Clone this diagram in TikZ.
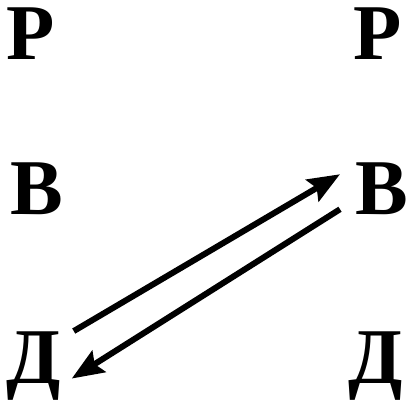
\documentclass[tikz,border=0pt]{standalone}
\usepackage{fontspec}
\setmainfont{Liberation Serif}
\usetikzlibrary{arrows.meta}
\tikzset{lt/.style={anchor=base west,inner sep=0pt,font=\bfseries\fontsize{79}{79}\selectfont},
         arr/.style={line width=6pt,-{Stealth[length=32pt,width=25pt,inset=5pt]}}}

\begin{document}
\begin{tikzpicture}[x=1pt,y=1pt]
	\useasboundingbox (0,0) rectangle (407,399);
	\node[lt] (pL) at (6,339) {Р};
	\node[lt] (vL) at (10,184) {В};
	\node[lt] (dL) at (6,16) {Д};
	\node[lt] (pR) at (353,339) {Р};
	\node[lt] (vR) at (355,184) {В};
	\node[lt] (dR) at (348,16) {Д};
	\draw[arr] ([shift={(13pt,0pt)}]dL.north east) -- ([shift={(-15pt,15pt)}]vR.west);
	\draw[arr] ([shift={(-15pt,-20pt)}]vR.west) -- ([shift={(11pt,-13pt)}]dL.east);
\end{tikzpicture}
\end{document}
